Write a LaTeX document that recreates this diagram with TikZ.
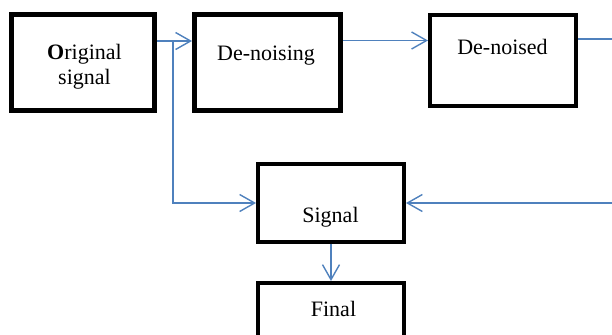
\documentclass[tikz,border=0pt]{standalone}
\usepackage{fontspec}
\setmainfont{Liberation Serif}
\usetikzlibrary{arrows.meta}
\definecolor{linkblue}{RGB}{79,129,189}
\begin{document}
\begin{tikzpicture}[x=1bp,y=-1bp]
        \tikzstyle{block}=[rectangle,draw=black,line width=5bp,inner sep=0pt]
        \tikzstyle{thinblock}=[rectangle,draw=black,line width=4.3bp,inner sep=0pt]
        \tikzstyle{blocktext}=[font=\fontsize{22bp}{25bp}\selectfont,align=center,inner sep=0pt,anchor=base]
        \tikzstyle{link}=[draw=linkblue,line width=1.4bp,-{Straight Barb[length=15bp,width=17bp]}]

        \useasboundingbox (0,0) rectangle (612,334);
        \clip (0,0) rectangle (612,334);

        % boxes
        \node [block,minimum width=143bp,minimum height=96bp] (orig) at (83,62.5) {};
        \node [block,minimum width=146bp,minimum height=96bp] (denoising) at (267.5,62.5) {};
        \node [thinblock,minimum width=145.7bp,minimum height=90.7bp] (denoised) at (503,60.5) {};
        \node [thinblock,minimum width=145.6bp,minimum height=77.6bp] (signal) at (331,203) {};
        \node [thinblock,minimum width=145.6bp,minimum height=90bp] (final) at (331,328.2) {};

        % texts
        \node [blocktext] (origtext) at (84.5,84) {\textbf{O}riginal\\signal};
        \node [blocktext] (denoisingtext) at (266,60) {De-noising};
        \node [blocktext] (denoisedtext) at (502.5,54) {De-noised};
        \node [blocktext] (signaltext) at (330.5,222) {Signal};
        \node [blocktext] (finaltext) at (333.5,316) {Final};

        \coordinate (split) at ([xshift=16bp,yshift=21.5bp]orig.east);

        \draw[link] ([yshift=21.5bp]orig.east) -- ([yshift=21.5bp]denoising.west);
        \draw[link] (split) |- (signal.west);
        \draw[link] ([yshift=22bp]denoising.east) -- ([yshift=22bp]denoising.east -| denoised.west);
        \draw[link] ([yshift=21.5bp]denoised.east) -- ++(60,0) |- (signal.east);
        \draw[link] (signal.south) -- (final.north);
\end{tikzpicture}
\end{document}
